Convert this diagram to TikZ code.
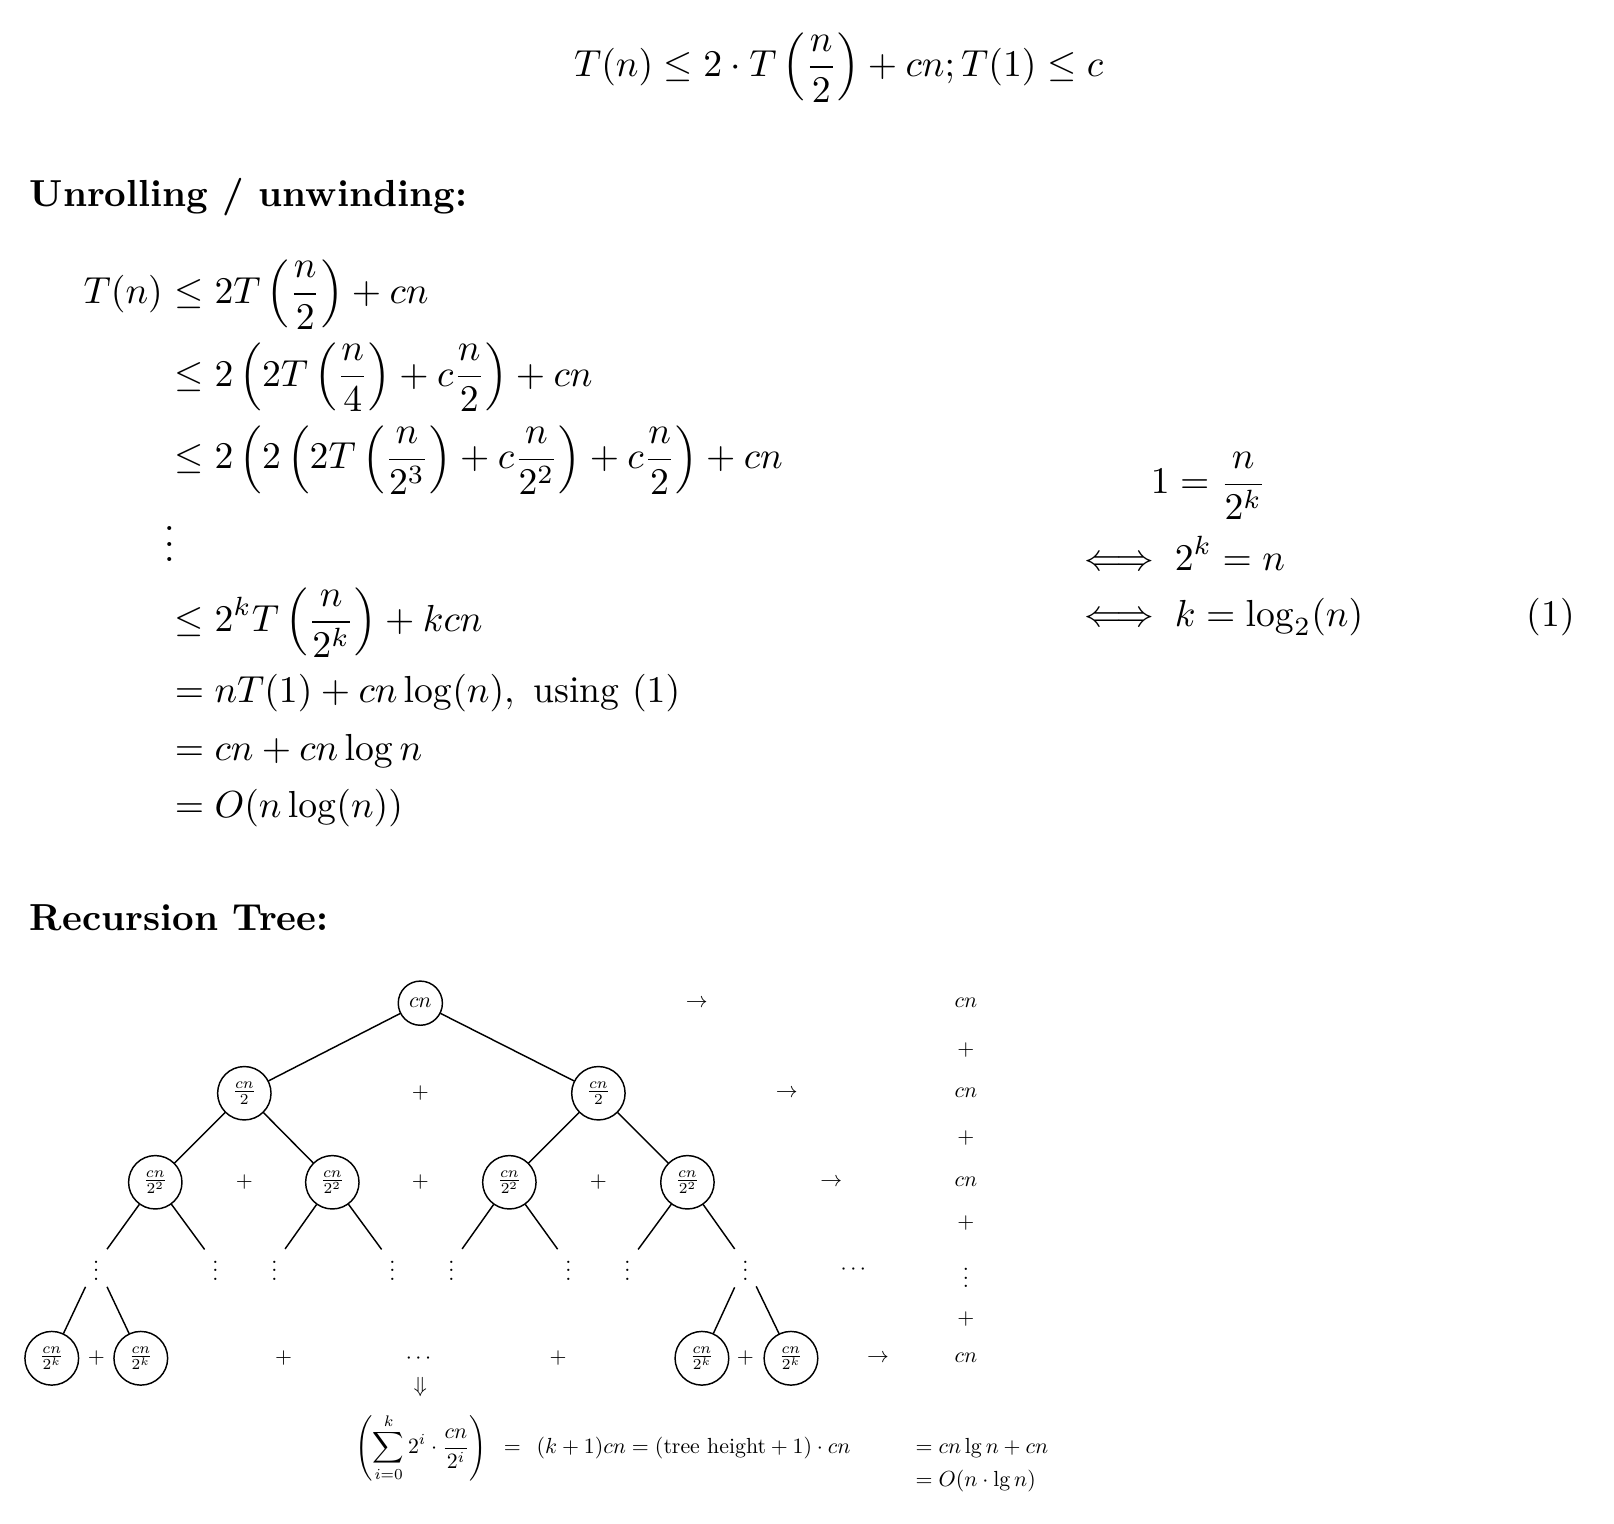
\documentclass[tikz,border=0pt]{standalone}
\usepackage{amsmath}
\begin{document}
\begin{tikzpicture}[
	txt/.style={inner sep=0pt, scale=1.035},
	small/.style={scale=0.6},
	smalltxt/.style={scale=0.6, inner sep=0pt},
	circ/.style={draw, circle, scale=0.6}
]

	\useasboundingbox (0,0) rectangle (15.59,14.72);

	% recurrence
	\node[txt, anchor=base] (rec) at (8.10,13.98) {$\displaystyle T(n) \le 2 \cdot T\left(\frac{n}{2}\right) + cn; T(1) \le c$};

	% unrolling
	\node[txt, anchor=base west] (unroll) at (0.28,12.73) {\textbf{Unrolling / unwinding:}};
	\node[txt, anchor=base east] (lhs) at (1.58,11.79) {$\displaystyle T(n)$};
	\node[txt, anchor=base west] (u1) at (1.58,11.79) {$\displaystyle {}\le 2T\left(\frac{n}{2}\right) + cn$};
	\node[txt, anchor=base west] (u2) at (1.58,10.99) {$\displaystyle {}\le 2\left(2T\left(\frac{n}{4}\right) + c\frac{n}{2}\right) + cn$};
	\node[txt, anchor=base west] (u3) at (1.58,10.19) {$\displaystyle {}\le 2\left(2\left(2T\left(\frac{n}{2^3}\right) + c\frac{n}{2^2}\right) + c\frac{n}{2}\right) + cn$};
	\node[txt, anchor=base west] (u4) at (1.58,9.30) {$\vdots$};
	\node[txt, anchor=base west] (u5) at (1.58,8.62) {$\displaystyle {}\le 2^kT\left(\frac{n}{2^k}\right) + kcn$};
	\node[txt, anchor=base west] (u6) at (1.58,7.93) {$\displaystyle {}= nT(1) + cn\log(n),\text{ using }(1)$};
	\node[txt, anchor=base west] (u7) at (1.58,7.37) {$\displaystyle {}= cn + cn\log n$};
	\node[txt, anchor=base west] (u8) at (1.58,6.82) {$\displaystyle {}= O(n\log(n))$};

	% height k
	\node[txt, anchor=base west] (h1) at (11.11,9.95) {$\displaystyle 1 = \frac{n}{2^k}$};
	\node[txt, anchor=base west] (h2) at (10.37,9.21) {$\displaystyle \iff 2^k = n$};
	\node[txt, anchor=base west] (h3) at (10.37,8.67) {$\displaystyle \iff k = \log_2(n)$};
	\node[txt, anchor=base east] (tag) at (15.22,8.67) {(1)};

	% recursion tree
	\node[txt, anchor=base west] (rtree) at (0.28,5.73) {\textbf{Recursion Tree:}};

	\node[circ] (root) at (4.06,5.03) {$cn$};
	\node[circ] (l) at (2.36,4.16) {$\frac{cn}{2}$};
	\node[circ] (r) at (5.78,4.16) {$\frac{cn}{2}$};
	\node[circ] (ll) at (1.50,3.30) {$\frac{cn}{2^2}$};
	\node[circ] (lr) at (3.21,3.30) {$\frac{cn}{2^2}$};
	\node[circ] (rl) at (4.92,3.30) {$\frac{cn}{2^2}$};
	\node[circ] (rr) at (6.64,3.30) {$\frac{cn}{2^2}$};
	\node[small] (d1) at (0.93,2.51) {$\vdots$};
	\node[small] (d2) at (2.08,2.51) {$\vdots$};
	\node[small] (d3) at (2.65,2.51) {$\vdots$};
	\node[small] (d4) at (3.79,2.51) {$\vdots$};
	\node[small] (d5) at (4.36,2.51) {$\vdots$};
	\node[small] (d6) at (5.49,2.51) {$\vdots$};
	\node[small] (d7) at (6.06,2.51) {$\vdots$};
	\node[small] (d8) at (7.20,2.51) {$\vdots$};
	\node[circ] (k1) at (0.50,1.60) {$\frac{cn}{2^k}$};
	\node[circ] (k2) at (1.36,1.60) {$\frac{cn}{2^k}$};
	\node[circ] (k3) at (6.78,1.60) {$\frac{cn}{2^k}$};
	\node[circ] (k4) at (7.64,1.60) {$\frac{cn}{2^k}$};

	\draw (root) -- (l);
	\draw (root) -- (r);
	\draw (l) -- (ll);
	\draw (l) -- (lr);
	\draw (r) -- (rl);
	\draw (r) -- (rr);
	\draw (ll) -- (d1);
	\draw (ll) -- (d2);
	\draw (lr) -- (d3);
	\draw (lr) -- (d4);
	\draw (rl) -- (d5);
	\draw (rl) -- (d6);
	\draw (rr) -- (d7);
	\draw (rr) -- (d8);
	\draw (d1) -- (k1);
	\draw (d1) -- (k2);
	\draw (d8) -- (k3);
	\draw (d8) -- (k4);

	% sums per level
	\node[small] (p21) at (4.06,4.16) {$+$};
	\node[small] (p31) at (2.36,3.30) {$+$};
	\node[small] (p32) at (4.06,3.30) {$+$};
	\node[small] (p33) at (5.78,3.30) {$+$};
	\node[small] (pk1) at (0.93,1.60) {$+$};
	\node[small] (pk2) at (2.74,1.60) {$+$};
	\node[small] (dk) at (4.06,1.60) {$\cdots$};
	\node[small] (pk3) at (5.39,1.60) {$+$};
	\node[small] (pk4) at (7.20,1.60) {$+$};
	\node[small] (dh) at (8.26,2.46) {$\cdots$};

	\node[small] (a1) at (6.73,5.03) {$\rightarrow$};
	\node[small] (a2) at (7.60,4.16) {$\rightarrow$};
	\node[small] (a3) at (8.03,3.30) {$\rightarrow$};
	\node[small] (a4) at (8.48,1.60) {$\rightarrow$};

	\node[small] (s1) at (9.33,5.03) {$cn$};
	\node[small] (q1) at (9.33,4.58) {$+$};
	\node[small] (s2) at (9.33,4.16) {$cn$};
	\node[small] (q2) at (9.33,3.73) {$+$};
	\node[small] (s3) at (9.33,3.30) {$cn$};
	\node[small] (q3) at (9.33,2.91) {$+$};
	\node[small] (sv) at (9.33,2.44) {$\vdots$};
	\node[small] (q4) at (9.33,1.98) {$+$};
	\node[small] (s4) at (9.33,1.60) {$cn$};

	% total
	\node[small] (down) at (4.06,1.32) {$\Downarrow$};
	\node[smalltxt, anchor=base] (sum) at (4.07,0.68) {$\displaystyle \left(\sum_{i=0}^{k} 2^i \cdot \frac{cn}{2^i}\right)$};
	\node[smalltxt, anchor=base] (eq) at (4.95,0.68) {$=$};
	\node[smalltxt, anchor=base west] (t1) at (5.18,0.68) {$(k+1)cn = (\text{tree height} + 1) \cdot cn$};
	\node[smalltxt, anchor=base west] (t2) at (8.84,0.68) {$= cn\lg n + cn$};
	\node[smalltxt, anchor=base west] (t3) at (8.84,0.36) {$= O(n \cdot \lg n)$};

\end{tikzpicture}
\end{document}
